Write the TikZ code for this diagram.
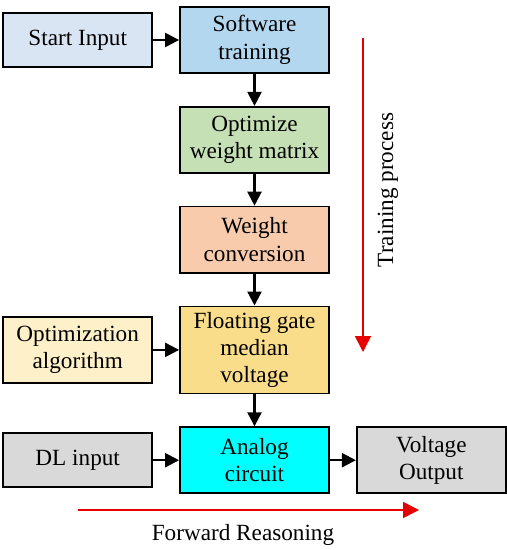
\documentclass[tikz,border=0pt]{standalone}
\usepackage{fontspec}
\setmainfont{Liberation Serif}
\usetikzlibrary{arrows.meta, positioning}

\definecolor{startblue}{HTML}{DAE5F4}
\definecolor{swblue}{HTML}{B4D7F0}
\definecolor{optgreen}{HTML}{C5E0B4}
\definecolor{convsalmon}{HTML}{F8CBAD}
\definecolor{gategold}{HTML}{FADD8A}
\definecolor{algocream}{HTML}{FEF0C8}
\definecolor{anacyan}{HTML}{00FFFF}
\definecolor{boxgray}{HTML}{D9D9D9}
\definecolor{flowred}{HTML}{E60000}

\begin{document}
\begin{tikzpicture}[
  x=0.5pt, y=-0.5pt,
  box/.style={draw, line width=0.9pt, minimum width=74.5pt, minimum height=33pt, align=center, inner sep=2pt,
    font=\fontsize{11.6}{13.7}\selectfont},
  link/.style={->, line width=1.1pt},
  flow/.style={draw=flowred, line width=0.8pt, -{Triangle[length=8pt,width=8pt]}},
  >={Triangle[length=7pt,width=7pt]}, node distance=16pt and 13pt
]
\useasboundingbox (0,0) rectangle (507,550);

\node[box, fill=swblue] (sw) at (254.5,40) {Software\\training};
\node[box, fill=startblue, minimum height=27pt, left=of sw] (start) {Start Input};
\node[box, fill=optgreen, below=of sw]    (opt)  {Optimize\\weight matrix};
\node[box, fill=convsalmon, below=of opt] (conv) {Weight\\conversion};
\node[box, fill=gategold, minimum height=43.5pt, below=of conv] (gate) {Floating gate\\median\\voltage};
\node[box, fill=algocream, left=of gate]  (algo) {Optimization\\algorithm};
\node[box, fill=anacyan, below=of gate]   (ana)  {Analog\\circuit};
\node[box, fill=boxgray, minimum height=27pt, left=of ana] (dl) {DL input};
\node[box, fill=boxgray, right=of ana]    (vout) {Voltage\\Output};

\draw[link] (start) -- (sw);
\draw[link] (sw)    -- (opt);
\draw[link] (opt)   -- (conv);
\draw[link] (conv)  -- (gate);
\draw[link] (algo)  -- (gate);
\draw[link] (gate)  -- (ana);
\draw[link] (dl)    -- (ana);
\draw[link] (ana)   -- (vout);

% training direction
\coordinate (tptop) at (363,38);
\coordinate (tpend) at (363,352);
\draw[flow] (tptop) -- (tpend);
\node[rotate=90, font=\fontsize{11.6}{13.7}\selectfont] (tplabel) at (388,190) {Training process};

% forward direction
\coordinate (fwstart) at (78,510);
\coordinate (fwend)   at (419,510);
\draw[flow] (fwstart) -- (fwend);
\node[font=\fontsize{11.6}{13.7}\selectfont] (fwlabel) at (243,535) {Forward Reasoning};
\end{tikzpicture}
\end{document}
